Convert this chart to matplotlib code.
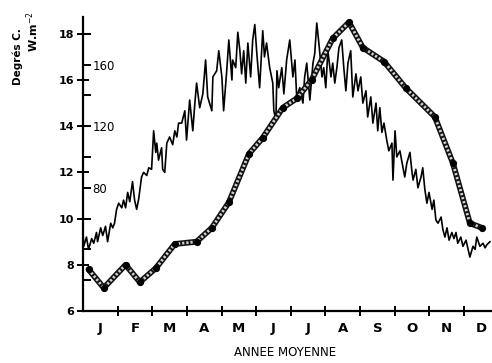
import matplotlib
matplotlib.use("Agg")
import matplotlib.pyplot as plt

# month labels (centred in each month, x in months from 1 Jan)
months = ["J", "F", "M", "A", "M", "J", "J", "A", "S", "O", "N", "D"]

# mean air temperature (deg C), thick hatched curve with dots
temp_month = [0.16, 0.60, 1.23, 1.64, 2.10, 2.65, 3.28, 3.72, 4.21, 4.79,
              5.19, 5.77, 6.17, 6.60, 7.21, 7.68, 8.08, 8.69, 9.32, 10.16,
              10.68, 11.17, 11.52]
temp_deg = [7.8, 7.0, 8.0, 7.25, 7.85, 8.9, 9.0, 9.6, 10.7, 12.8,
            13.5, 14.8, 15.2, 16.0, 17.8, 18.5, 17.4, 16.8, 15.65, 14.4,
            12.4, 9.8, 9.6]

# mean daily radiation (W.m-2), thin noisy curve
rad_month = [
    0.00, 0.02, 0.10, 0.16, 0.25, 0.31, 0.39, 0.42, 0.51, 0.57,
    0.65, 0.71, 0.80, 0.86, 0.91, 0.97, 1.03, 1.12, 1.17, 1.23,
    1.29, 1.35, 1.43, 1.49, 1.55, 1.61, 1.69, 1.75, 1.84, 1.90,
    1.98, 2.04, 2.10, 2.13, 2.18, 2.27, 2.30, 2.36, 2.42, 2.50,
    2.59, 2.65, 2.71, 2.76, 2.85, 2.94, 2.99, 3.08, 3.17, 3.23,
    3.28, 3.37, 3.46, 3.54, 3.60, 3.72, 3.75, 3.86, 3.92, 4.01,
    4.06, 4.15, 4.21, 4.30, 4.32, 4.41, 4.47, 4.53, 4.58, 4.64,
    4.70, 4.76, 4.84, 4.90, 4.96, 5.02, 5.10, 5.19, 5.24, 5.30,
    5.39, 5.48, 5.51, 5.57, 5.60, 5.65, 5.74, 5.80, 5.88, 5.97,
    6.06, 6.12, 6.17, 6.26, 6.35, 6.40, 6.46, 6.55, 6.64, 6.69,
    6.75, 6.81, 6.90, 6.95, 7.01, 7.07, 7.16, 7.21, 7.27, 7.33,
    7.39, 7.47, 7.53, 7.59, 7.65, 7.73, 7.79, 7.88, 7.94, 8.02,
    8.08, 8.17, 8.22, 8.31, 8.37, 8.46, 8.51, 8.57, 8.63, 8.69,
    8.77, 8.83, 8.92, 8.95, 9.01, 9.06, 9.15, 9.24, 9.29, 9.35,
    9.44, 9.50, 9.53, 9.61, 9.67, 9.76, 9.81, 9.87, 9.93, 9.99,
    10.08, 10.13, 10.19, 10.25, 10.34, 10.39, 10.45, 10.51, 10.57, 10.65,
    10.71, 10.77, 10.82, 10.91, 10.97, 11.06, 11.12, 11.17, 11.26, 11.32,
    11.37, 11.46, 11.55, 11.61, 11.66, 11.75,
]
rad_wm2 = [
    51, 42, 48, 40, 47, 44, 51, 45, 54, 49,
    55, 45, 57, 54, 57, 66, 70, 67, 72, 67,
    77, 71, 84, 72, 66, 73, 87, 90, 88, 93,
    92, 117, 103, 109, 98, 106, 92, 90, 109, 113,
    108, 117, 113, 122, 122, 130, 111, 137, 117, 135,
    148, 132, 141, 163, 139, 130, 152, 156, 169, 152,
    130, 156, 176, 150, 163, 158, 181, 169, 154, 169,
    148, 174, 152, 176, 186, 167, 145, 182, 165, 174,
    158, 148, 130, 124, 156, 145, 158, 141, 163, 176,
    152, 163, 139, 145, 135, 152, 161, 137, 161, 167,
    187, 174, 152, 158, 145, 169, 152, 161, 148, 158,
    171, 176, 158, 143, 161, 169, 139, 154, 143, 152,
    135, 143, 126, 139, 122, 135, 117, 132, 116, 122,
    111, 104, 109, 85, 117, 100, 104, 93, 87, 96,
    103, 90, 85, 92, 80, 87, 93, 79, 70, 77,
    66, 72, 59, 57, 61, 53, 48, 54, 46, 51,
    47, 51, 44, 48, 42, 46, 40, 35, 42, 40,
    48, 42, 44, 41, 43, 45,
]


def deg_to_wm2(d):
    return (d - 6.0) * 15.0


def wm2_to_deg(w):
    return w / 15.0 + 6.0


fig = plt.figure(figsize=(4.92, 3.63), dpi=100)
ax = fig.add_axes([83 / 492, 1 - 311 / 363, 1 - 83 / 492, (311 - 17) / 363])

rad_deg = [wm2_to_deg(w) for w in rad_wm2]
ax.plot(rad_month, rad_deg, color="black", lw=1.2, zorder=2)

# hatched temperature band
ax.plot(temp_month, temp_deg, color="#111111", lw=4.2, zorder=3,
        solid_joinstyle="round", solid_capstyle="round")
ax.plot(temp_month, temp_deg, color="#d0d0d0", lw=2.0, zorder=4,
        linestyle=(0, (0.8, 0.7)))
ax.plot(temp_month, temp_deg, linestyle="none", marker="o", ms=4.2,
        color="black", zorder=6)

ax.set_xlim(0, (492 - 83.4) / 34.6)
ax.set_ylim(6, 6 + (311 - 17) / 23.1)

for side in ["top", "right"]:
    ax.spines[side].set_visible(False)
ax.spines["left"].set_linewidth(1.6)
ax.spines["bottom"].set_linewidth(1.6)

# x: boundary ticks and centred month letters
ax.set_xticks(range(1, 12))
ax.set_xticklabels([])
ax.tick_params(axis="x", which="major", direction="inout", length=7, width=1.4)
ax.set_xticks([i + 0.5 for i in range(12)], minor=True)
ax.set_xticklabels(months, minor=True, fontsize=9.5, fontweight="bold")
ax.tick_params(axis="x", which="minor", length=0, pad=8)

# y: degrees on the left
ax.set_yticks(range(6, 19, 2))
ax.tick_params(axis="y", direction="inout", length=9, width=1.4,
               labelsize=8, pad=2)
for lab in ax.get_yticklabels():
    lab.set_fontweight("bold")

# W.m-2 scale drawn on the right side of the same spine
sec = ax.secondary_yaxis(0, functions=(deg_to_wm2, wm2_to_deg))
sec.set_alignment("right")
sec.spines["right"].set_visible(False)
sec.set_yticks(range(20, 181, 20))
sec.set_yticklabels(["" if w not in (80, 120, 160) else str(w)
                     for w in range(20, 181, 20)])
sec.tick_params(axis="y", direction="out", length=6, width=1.4,
                labelsize=8.5, pad=1)

fig.text(18 / 492, 1 - 57 / 363, "Degrés C.", rotation=90, ha="center",
         va="center", fontsize=7.5, fontweight="bold")
fig.text(33 / 492, 1 - 32 / 363, "W.m$^{-2}$", rotation=90, ha="center",
         va="center", fontsize=8, fontweight="bold")
fig.text(285 / 492, 1 - 352 / 363, "ANNEE MOYENNE", ha="center", va="center",
         fontsize=8.5)

fig.savefig("out.png", dpi=100)
